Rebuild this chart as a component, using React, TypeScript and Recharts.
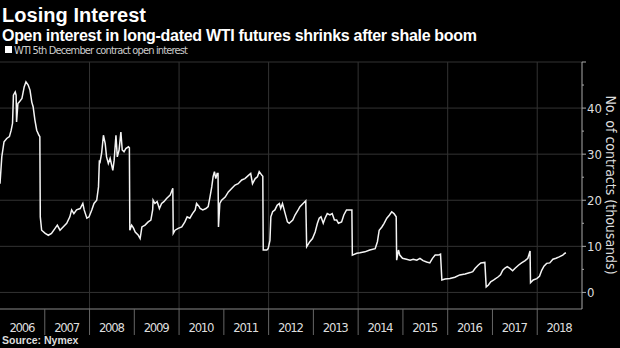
import { Line, LineChart, ReferenceLine, XAxis, YAxis } from 'recharts';

const years = [
  2006.0, 2006.04, 2006.09, 2006.15, 2006.21, 2006.25, 2006.28, 2006.3, 2006.34, 2006.36, 2006.37, 2006.4, 2006.43,
  2006.49, 2006.54, 2006.58, 2006.63, 2006.67, 2006.71, 2006.74, 2006.78, 2006.82, 2006.87, 2006.89, 2006.9, 2006.93,
  2007.01, 2007.08, 2007.15, 2007.23, 2007.28, 2007.34, 2007.41, 2007.49, 2007.56, 2007.6, 2007.65, 2007.71, 2007.79,
  2007.85, 2007.88, 2007.94, 2007.99, 2008.05, 2008.1, 2008.16, 2008.2, 2008.22, 2008.23, 2008.27, 2008.31, 2008.35,
  2008.38, 2008.42, 2008.46, 2008.52, 2008.55, 2008.59, 2008.62, 2008.66, 2008.7, 2008.73, 2008.77, 2008.81, 2008.87,
  2008.89, 2008.9, 2008.94, 2008.98, 2009.02, 2009.09, 2009.13, 2009.17, 2009.24, 2009.31, 2009.37, 2009.41, 2009.42,
  2009.46, 2009.51, 2009.56, 2009.61, 2009.66, 2009.72, 2009.8, 2009.86, 2009.87, 2009.91, 2009.98, 2010.06, 2010.13,
  2010.18, 2010.24, 2010.3, 2010.36, 2010.39, 2010.45, 2010.47, 2010.53, 2010.6, 2010.65, 2010.69, 2010.73, 2010.76,
  2010.79, 2010.82, 2010.85, 2010.87, 2010.88, 2010.91, 2010.95, 2011.03, 2011.1, 2011.18, 2011.25, 2011.32, 2011.4,
  2011.47, 2011.55, 2011.6, 2011.64, 2011.7, 2011.75, 2011.79, 2011.85, 2011.87, 2011.88, 2011.96, 2011.99, 2012.03,
  2012.05, 2012.09, 2012.14, 2012.19, 2012.24, 2012.27, 2012.31, 2012.37, 2012.42, 2012.46, 2012.54, 2012.59, 2012.66,
  2012.7, 2012.77, 2012.83, 2012.85, 2012.92, 2012.98, 2013.04, 2013.09, 2013.13, 2013.17, 2013.22, 2013.26, 2013.31,
  2013.37, 2013.42, 2013.47, 2013.52, 2013.56, 2013.63, 2013.68, 2013.74, 2013.86, 2013.87, 2013.97, 2014.04, 2014.15,
  2014.26, 2014.38, 2014.43, 2014.47, 2014.53, 2014.58, 2014.64, 2014.7, 2014.75, 2014.8, 2014.85, 2014.86, 2014.9,
  2014.93, 2014.99, 2015.08, 2015.16, 2015.23, 2015.31, 2015.38, 2015.45, 2015.53, 2015.6, 2015.66, 2015.72, 2015.79,
  2015.84, 2015.87, 2015.94, 2016.05, 2016.16, 2016.27, 2016.39, 2016.5, 2016.56, 2016.61, 2016.68, 2016.74, 2016.83,
  2016.86, 2016.91, 2016.96, 2017.03, 2017.13, 2017.18, 2017.23, 2017.28, 2017.33, 2017.39, 2017.45, 2017.5, 2017.58,
  2017.65, 2017.73, 2017.79, 2017.84, 2017.85, 2017.91, 2017.99, 2018.05, 2018.1, 2018.15, 2018.21, 2018.28, 2018.35,
  2018.42, 2018.49, 2018.57, 2018.62, 2018.64,
];

// thousands of contracts
const openInterest = [
  23.6, 29.4, 32.7, 33.4, 33.8, 35.2, 36.7, 42.8, 43.5, 42.8, 37.0, 41.0, 41.3,
  42.1, 44.6, 45.7, 45.0, 43.9, 41.3, 40.3, 37.4, 35.2, 34.1, 33.8, 16.4, 13.5,
  12.8, 12.4, 12.8, 13.9, 14.6, 13.5, 14.2, 15.0, 16.4, 17.9, 17.1, 17.9, 18.2,
  19.3, 17.9, 16.1, 16.4, 17.9, 19.3, 20.0, 22.9, 28.7, 28.0, 30.2, 34.1, 32.3,
  29.4, 28.0, 29.1, 26.5, 28.7, 34.1, 29.4, 30.9, 34.8, 30.9, 30.5, 31.2, 31.6,
  31.4, 13.5, 14.6, 14.0, 13.1, 12.4, 11.7, 14.2, 14.6, 15.3, 15.7, 17.9, 20.0,
  19.3, 19.7, 18.2, 19.3, 19.7, 20.4, 21.1, 22.6, 12.8, 13.5, 13.9, 14.2, 15.3,
  16.4, 16.1, 17.1, 17.9, 19.3, 18.6, 18.2, 17.9, 18.2, 18.6, 20.7, 22.9, 25.1,
  26.2, 24.7, 25.8, 25.8, 14.2, 19.3, 20.0, 20.7, 21.8, 22.6, 23.3, 23.6, 24.4,
  24.7, 25.4, 25.8, 23.6, 24.7, 25.1, 26.2, 25.4, 25.2, 9.2, 9.2, 9.5, 11.3,
  16.4, 17.5, 17.9, 18.9, 19.3, 18.2, 19.3, 17.1, 15.3, 15.0, 15.7, 16.8, 17.9,
  18.6, 19.3, 19.9, 9.9, 11.0, 11.7, 13.1, 15.0, 16.1, 16.4, 15.0, 16.1, 17.1,
  16.8, 17.1, 15.7, 15.7, 15.0, 15.3, 16.8, 17.9, 17.9, 8.1, 8.5, 8.6, 8.8,
  9.2, 9.5, 11.0, 13.5, 14.2, 15.0, 16.1, 16.8, 17.5, 17.1, 16.4, 7.0, 9.2,
  8.1, 7.4, 7.2, 7.0, 7.2, 7.0, 7.4, 6.9, 6.6, 6.4, 7.4, 8.1, 8.1,
  8.3, 2.7, 2.9, 3.0, 3.3, 3.8, 4.0, 4.3, 4.5, 5.2, 5.9, 6.4, 6.5,
  1.2, 1.6, 2.3, 2.7, 3.4, 3.8, 4.8, 5.3, 5.6, 5.2, 4.7, 5.2, 5.9,
  6.4, 6.9, 7.4, 9.0, 2.1, 2.7, 3.0, 3.5, 4.8, 5.7, 6.3, 6.4, 7.2,
  7.4, 7.7, 8.1, 8.5, 8.6,
];

const yearTicks = [2006, 2007, 2008, 2009, 2010, 2011, 2012, 2013, 2014, 2015, 2016, 2017, 2018];
const gridYears = [2008, 2010, 2012, 2014, 2016, 2018];
const valueTicks = [0, 5, 10, 15, 20, 25, 30, 35, 40, 45, 50];
const gridValues = [0, 10, 20, 30, 40, 50];

const data = years.map((t, i) => ({ t, v: openInterest[i] }));

const W = 620;
const H = 348;
const AXIS_W = 38;
const YEAR_PX = (W - AXIS_W) / 13;
const narrow = "'Liberation Sans Narrow', 'DejaVu Sans Condensed', 'Liberation Sans', sans-serif";
const bold = "'Liberation Sans', Arial, sans-serif";

function YearTick({ x, y, payload }: any) {
  return (
    <g>
      {payload.value > 2006 && <line x1={x} x2={x} y1={y} y2={y + 26} stroke="#666" />}
      <text
        x={x + YEAR_PX / 2}
        y={y + 23}
        textAnchor="middle"
        fill="#ddd"
        fontSize={13}
        fontFamily={narrow}
        textLength={26}
      >
        {payload.value}
      </text>
    </g>
  );
}

function ValueTick({ x, y, payload }: any) {
  const major = payload.value % 10 === 0;
  return (
    <g>
      <line x1={x} x2={x + (major ? 4 : 2)} y1={y} y2={y} stroke="#aaa" />
      {major && payload.value < 50 && (
        <text x={x + 5} y={y + 4.5} fill="#ddd" fontSize={13} fontFamily={narrow}>
          {payload.value}
        </text>
      )}
    </g>
  );
}

export default function App() {
  return (
    <div style={{ position: 'absolute', left: 0, top: 0, width: W, height: H, background: '#000' }}>
      <LineChart width={W} height={H} data={data} margin={{ top: 62, right: 0, bottom: 0, left: 0 }}>
        {gridValues.map((v) => (
          <ReferenceLine key={'h' + v} y={v} stroke="#333" />
        ))}
        {gridYears.map((yr) => (
          <ReferenceLine key={'v' + yr} x={yr} stroke="#333" />
        ))}
        <XAxis
          dataKey="t"
          type="number"
          domain={[2006, 2019]}
          ticks={yearTicks}
          interval={0}
          allowDataOverflow
          height={H - 309}
          axisLine={{ stroke: '#888' }}
          tickLine={false}
          tickSize={0}
          tickMargin={0}
          tick={<YearTick />}
        />
        <YAxis
          orientation="right"
          type="number"
          domain={[-3.6, 50]}
          ticks={valueTicks}
          interval={0}
          allowDataOverflow
          width={AXIS_W}
          axisLine={{ stroke: '#aaa' }}
          tickLine={false}
          tickSize={0}
          tickMargin={0}
          tick={<ValueTick />}
        />
        <Line
          dataKey="v"
          type="linear"
          stroke="#f4f4f4"
          strokeWidth={1.5}
          dot={false}
          isAnimationActive={false}
        />
      </LineChart>
      <svg width={W} height={H} style={{ position: 'absolute', left: 0, top: 0, pointerEvents: 'none' }}>
        <text x={2} y={22} fill="#fff" fontSize={20} fontWeight="bold" fontFamily={bold} textLength={144}>
          Losing Interest
        </text>
        <text x={2} y={41} fill="#fff" fontSize={16} fontWeight="bold" fontFamily={bold} textLength={475}>
          Open interest in long-dated WTI futures shrinks after shale boom
        </text>
        <rect x={5} y={46} width={7} height={7} fill="#fff" />
        <text x={14} y={54} fill="#ccc" fontSize={11} fontFamily={narrow} textLength={174}>
          WTI 5th December contract open interest
        </text>
        <text
          x={606}
          y={185}
          fill="#ddd"
          fontSize={14}
          fontFamily={narrow}
          textAnchor="middle"
          transform="rotate(90 606 185)"
        >
          No. of contracts (thousands)
        </text>
        <text x={2} y={344} fill="#ddd" fontSize={10.5} fontWeight="bold" fontFamily={bold}>
          Source: Nymex
        </text>
      </svg>
    </div>
  );
}
